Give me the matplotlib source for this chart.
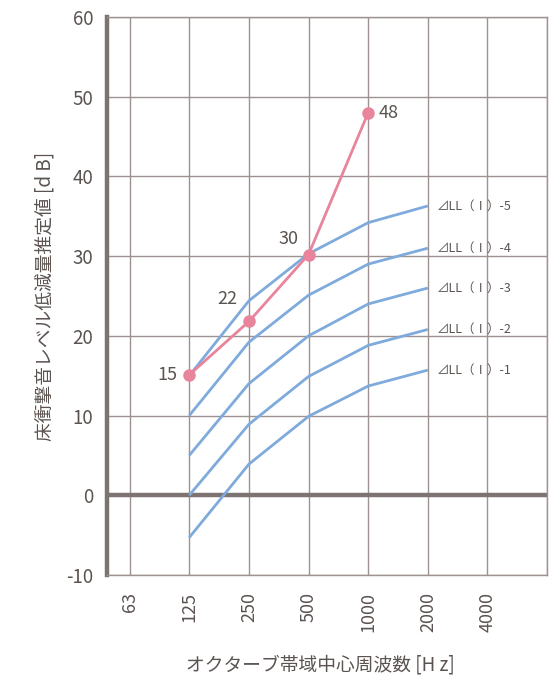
import matplotlib
matplotlib.use("Agg")
import matplotlib.pyplot as plt

plt.rcParams['font.family'] = ['Noto Sans CJK JP', 'DejaVu Sans']

# data
freqs = ["63", "125", "250", "500", "1000", "2000", "4000"]
curve_freqs = ["125", "250", "500", "1000", "2000"]
ll1 = [-5.3, 3.9, 9.9, 13.7, 15.7]
ll2 = [0.0, 8.9, 14.9, 18.8, 20.8]
ll3 = [5.0, 14.0, 20.0, 24.0, 26.0]
ll4 = [10.0, 19.2, 25.1, 29.0, 31.0]
ll5 = [15.0, 24.4, 30.3, 34.2, 36.3]
curve_names = ["⊿LL（Ⅰ）-1", "⊿LL（Ⅰ）-2", "⊿LL（Ⅰ）-3", "⊿LL（Ⅰ）-4", "⊿LL（Ⅰ）-5"]
meas_freqs = ["125", "250", "500", "1000"]
meas_vals = [15.1, 21.8, 30.2, 48.0]
meas_labels = ["15", "22", "30", "48"]

BLUE = "#7eaadc"
PINK = "#e8849c"
GRID = "#9c9290"
DARK = "#7d7370"
TXT = "#5b5350"

xi = {f: i for i, f in enumerate(freqs)}

fig = plt.figure(figsize=(5.6, 6.82), dpi=100)
ax = fig.add_axes([0.191, 0.157, 0.786, 0.818])

ax.set_xlim(-0.38, 7)
ax.set_ylim(-10, 60)
ax.set_xticks(range(len(freqs)))
ax.set_xticklabels(freqs, rotation=90, fontsize=13, color=TXT)
ax.set_yticks(range(-10, 61, 10))
ax.set_yticklabels([str(v) for v in range(-10, 61, 10)], fontsize=13.5, color=TXT)
ax.tick_params(length=0, pad=10)
ax.tick_params(axis='x', pad=12)

# grid incl. extra right line
for x in list(range(len(freqs))) + [7]:
    ax.axvline(x, color=GRID, lw=1.0, zorder=1)
for y in range(-10, 61, 10):
    ax.axhline(y, color=GRID, lw=1.0, zorder=1)
ax.axhline(0, color=DARK, lw=3.2, zorder=2)

for s in ['top', 'right', 'bottom']:
    ax.spines[s].set_color(GRID)
    ax.spines[s].set_linewidth(1.0)
ax.spines['left'].set_color(DARK)
ax.spines['left'].set_linewidth(3.2)

xs = [xi[f] for f in curve_freqs]
for vals, name in zip([ll1, ll2, ll3, ll4, ll5], curve_names):
    ax.plot(xs, vals, color=BLUE, lw=2.0, zorder=3, solid_capstyle='butt')
    ax.text(xs[-1] + 0.15, vals[-1], name, fontsize=9, color=TXT,
            va='center', ha='left', zorder=5)

mx = [xi[f] for f in meas_freqs]
ax.plot(mx, meas_vals, color=PINK, lw=2.0, marker='o', ms=8, zorder=4)

offsets = [(-0.2, 0.0, 'right', 'center'),
           (-0.2, 2.8, 'right', 'center'),
           (-0.17, 2.0, 'right', 'center'),
           (0.17, 0.0, 'left', 'center')]
for x, v, lab, (dx, dy, ha, va) in zip(mx, meas_vals, meas_labels, offsets):
    ax.text(x + dx, v + dy, lab, fontsize=13, color=TXT, ha=ha, va=va, zorder=5)

ax.set_ylabel("床衝撃音レベル低減量推定値 [d B]", fontsize=13.5, color=TXT)
ax.yaxis.set_label_coords(-0.118, 0.5)
ax.set_xlabel("オクターブ帯域中心周波数 [H z]", fontsize=13.5, color=TXT)
ax.xaxis.set_label_coords(0.484, -0.143)

fig.savefig("out.png", dpi=100)
